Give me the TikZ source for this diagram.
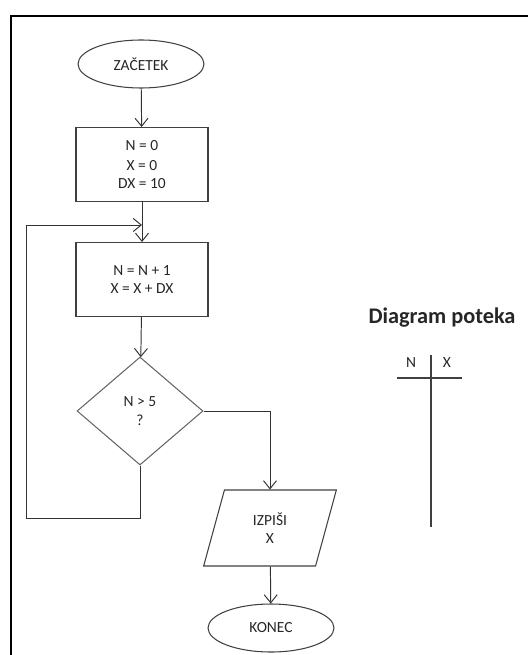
\documentclass[tikz,border=0pt]{standalone}
\usepackage{fontspec}
\setmainfont{Carlito}
\usetikzlibrary{shapes.geometric,arrows.meta}

\tikzset{
  every node/.style={font=\fontsize{8.8}{10.5}\selectfont, text=black!85},
  term/.style={ellipse, draw=black!75, line width=0.6pt, minimum width=2.52cm, minimum height=0.96cm, inner sep=0pt},
  proc/.style={draw=black!75, line width=0.6pt, minimum width=2.64cm, minimum height=1.48cm, align=center},
  test/.style={diamond, draw=black!60, line width=0.6pt, minimum width=2.52cm, minimum height=2.16cm, inner sep=0pt, align=center},
  io/.style={trapezium, trapezium left angle=76, trapezium right angle=104, trapezium stretches=true,
    draw=black!75, line width=0.6pt, minimum width=2.66cm, minimum height=1.52cm, inner sep=0pt, align=center},
  flow/.style={draw=black!80, line width=0.55pt, -{Straight Barb[length=1.6mm,width=2.6mm]}},
}

\begin{document}
\begin{tikzpicture}[x=0.02cm,y=-0.02cm]
      \useasboundingbox (0,0) rectangle (528,655);
      % frame (top and left only)
      \draw[line width=1.7pt] (11,655) -- (11,16) -- (528,16);

      \node[term] (start) at (141,64) {ZAČETEK};
      \node[proc] (init) at (142,164.5) {N = 0\\[1pt] X = 0\\ DX = 10};
      \node[proc] (step) at (142,279.5) {N = N + 1\\ X = X + DX};
      \node[test] (cond) at (140,411) {N \textgreater{} 5\\ ?};
      \node[io] (out) at (270,528) {IZPIŠI\\ X};
      \node[term] (stop) at (271,628) {KONEC};
      \coordinate (lb) at (26,518);
      \coordinate (lt) at (26,225);

      \draw[flow] (start) -- (init);
      \draw[flow] (init) -- (step);
      \draw[flow] (step) -- (cond);
      \draw[flow] (cond.east) -| (out.north);
      \draw[flow] (out) -- (stop);
      \draw[flow] (cond.south) |- (lb) -- (lt) -- (lt -| step.north);

      % trace table
      \node[font=\fontsize{12.7}{15}\selectfont\bfseries] (title) at (442,318) {Diagram poteka};
      \node (colN) at (411,363) {N};
      \node (colX) at (447,363) {X};
      \draw[black!75, line width=0.6pt] (431,355) -- (431,527) (397,378) -- (462,378);
      \end{tikzpicture}
\end{document}
